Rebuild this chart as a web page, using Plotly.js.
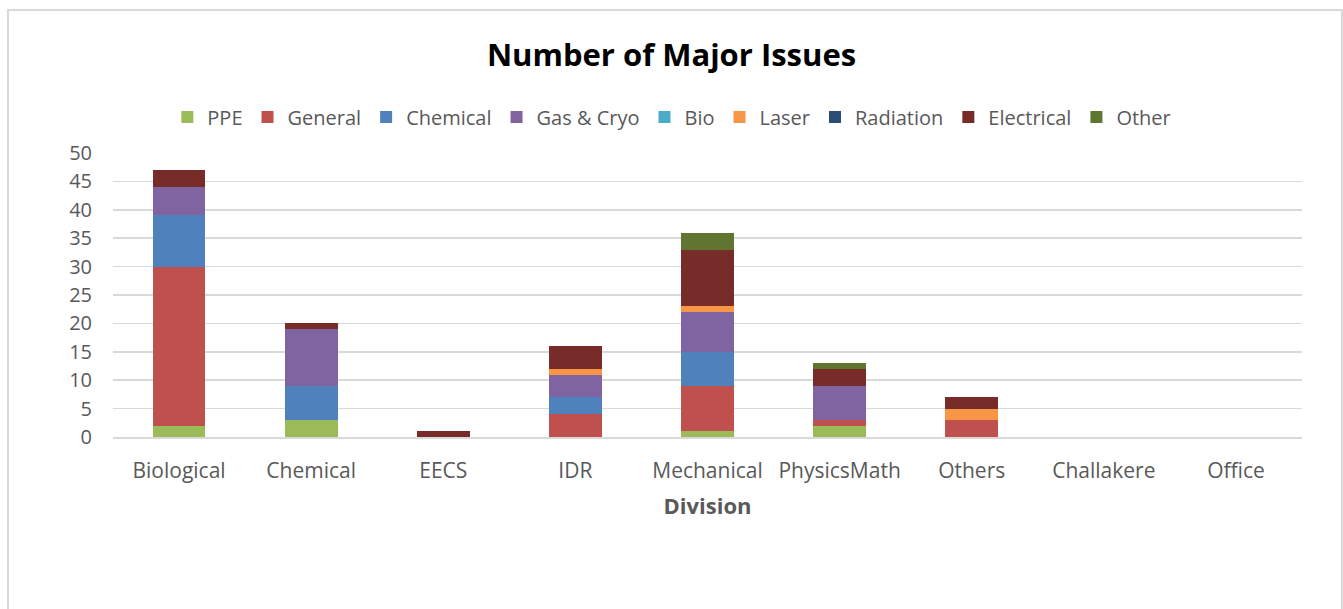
<!DOCTYPE html>
<html>
<head>
<meta charset="utf-8">
<script src="https://cdn.plot.ly/plotly-3.0.1.min.js"></script>
<style>
  html, body { margin: 0; padding: 0; background: #fff; }
  #frame { position: absolute; left: 7px; top: 9px; width: 1332px; height: 620px;
           border: 2px solid #d9d9d9; border-bottom: none; }
  #chart { position: absolute; left: 0; top: 0; width: 1343px; height: 609px; }
</style>
</head>
<body>
<div id="frame"></div>
<div id="chart"></div>
<script>
const categories = ["Biological", "Chemical", "EECS", "IDR", "Mechanical", "PhysicsMath", "Others", "Challakere", "Office"];
const ppe        = [2, 3, 0, 0, 1, 2, 0, 0, 0];
const general    = [28, 0, 0, 4, 8, 1, 3, 0, 0];
const chemical   = [9, 6, 0, 3, 6, 0, 0, 0, 0];
const gasCryo    = [5, 10, 0, 4, 7, 6, 0, 0, 0];
const bio        = [0, 0, 0, 0, 0, 0, 0, 0, 0];
const laser      = [0, 0, 0, 1, 1, 0, 2, 0, 0];
const radiation  = [0, 0, 0, 0, 0, 0, 0, 0, 0];
const electrical = [3, 1, 1, 4, 10, 3, 2, 0, 0];
const other      = [0, 0, 0, 0, 3, 1, 0, 0, 0];
const yTicks     = [0, 5, 10, 15, 20, 25, 30, 35, 40, 45, 50];

const series = [
  ["PPE", ppe, "#9BBB59"],
  ["General", general, "#C0504D"],
  ["Chemical", chemical, "#4F81BD"],
  ["Gas & Cryo", gasCryo, "#8064A2"],
  ["Bio", bio, "#4BACC6"],
  ["Laser", laser, "#F79646"],
  ["Radiation", radiation, "#2C4D75"],
  ["Electrical", electrical, "#772C2A"],
  ["Other", other, "#5F7530"]
];

const traces = series.map(([name, vals, color]) => ({
  type: "bar",
  name: name,
  x: categories,
  y: vals,
  marker: { color: color, line: { width: 0 } },
  hoverinfo: "name+y"
}));

const font = "Open Sans, Lato, sans-serif";
const layout = {
  width: 1343, height: 609,
  barmode: "stack",
  bargap: 0.6,
  paper_bgcolor: "rgba(0,0,0,0)",
  plot_bgcolor: "rgba(0,0,0,0)",
  margin: { l: 113, r: 41, t: 153, b: 172 },
  font: { family: font, color: "#595959", size: 20 },
  title: {
    text: "<b>Number of Major Issues</b>",
    font: { family: font, size: 31, color: "#000000" },
    x: 0.5, xanchor: "center",
    y: 1 - 55 / 609, yanchor: "middle", yref: "container"
  },
  legend: {
    orientation: "h",
    x: 0.47, xanchor: "center",
    y: 1.127, yanchor: "middle",
    font: { family: font, size: 20, color: "#595959" },
    traceorder: "normal",
    itemwidth: 30
  },
  xaxis: {
    type: "category",
    categoryorder: "array",
    categoryarray: categories,
    showgrid: false,
    showline: true,
    linecolor: "#d9d9d9",
    linewidth: 1.5,
    ticks: "",
    ticklabelstandoff: 14,
    tickfont: { family: font, size: 21, color: "#595959" },
    title: {
      text: "<b>Division</b>",
      font: { family: font, size: 22, color: "#595959" },
      standoff: 16
    }
  },
  yaxis: {
    range: [0, 50],
    tickvals: yTicks,
    ticktext: yTicks.map(String),
    showgrid: true,
    gridcolor: "#d9d9d9",
    gridwidth: 1.5,
    zeroline: false,
    showline: false,
    ticks: "",
    ticklabelstandoff: 20,
    tickfont: { family: font, size: 20, color: "#595959" }
  }
};

Plotly.newPlot("chart", traces, layout, { displayModeBar: false, staticPlot: true });
</script>
</body>
</html>
